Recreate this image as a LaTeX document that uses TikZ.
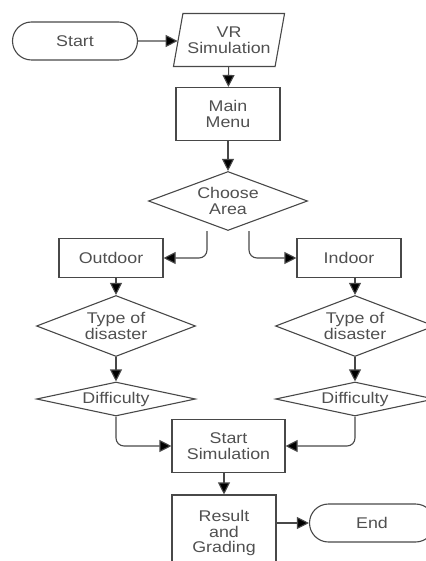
\documentclass[tikz,border=0pt]{standalone}
\usepackage{fontspec}
\setmainfont[FakeStretch=1.15]{Liberation Sans}
\usetikzlibrary{shapes.geometric,shapes.misc,arrows.meta}
\definecolor{edge}{HTML}{484848}
\definecolor{txt}{HTML}{505050}
\tikzset{
  base/.style={draw=edge, line width=1.1pt, text=txt, align=center, inner sep=0pt,
    font=\fontsize{15.5}{15.5}\selectfont},
  term/.style={base, rounded rectangle, minimum width=125pt, minimum height=38pt},
  io/.style={base, trapezium, trapezium left angle=72, trapezium right angle=108,
    trapezium stretches=true, minimum width=112pt, minimum height=53pt},
  box/.style={base, rectangle, minimum width=104pt},
  choice/.style={base, diamond, minimum width=159pt},
  arr/.style={draw=edge, line width=1.1pt, -{Triangle[length=12pt,width=12pt,fill=black]}},
}
\begin{document}
\begin{tikzpicture}[x=1pt,y=-1pt]
  \useasboundingbox (0,0) rectangle (425,561);
  % top
  \node[term] (start) at (75,41) {Start};
  \node[io] (vr) at (229,40) {VR\\Simulation};
  \node[box, minimum height=53pt] (menu) at (228,114) {Main\\Menu};
  \node[choice, minimum height=59pt, aspect=2.7] (area) at (228,201) {Choose\\Area};
  % two branches
  \node[box, minimum height=39pt] (outdoor) at (111,258) {Outdoor};
  \node[box, minimum height=39pt] (indoor) at (349,258) {Indoor};
  \node[choice, minimum height=61pt, aspect=2.6] (typeout) at (116,326) {Type of\\disaster};
  \node[choice, minimum height=61pt, aspect=2.6] (typein) at (355,326) {Type of\\disaster};
  \node[choice, minimum height=34pt, aspect=4.7] (diffout) at (116,399) {Difficulty};
  \node[choice, minimum height=34pt, aspect=4.7] (diffin) at (355,399) {Difficulty};
  % bottom
  \node[box, minimum width=113pt, minimum height=53pt] (sim) at (228.5,446) {Start\\Simulation};
  \node[box, minimum height=76pt] (result) at (224,533) {Result\\and\\Grading};
  \node[term] (end) at (372,523) {End};

  \draw[arr] (start) -- (start -| vr.west);
  \draw[arr] (vr) -- (menu);
  \draw[arr] (menu) -- (area);
  \draw[arr, rounded corners=8pt] ([xshift=-21pt]area.south) |- (outdoor);
  \draw[arr, rounded corners=8pt] ([xshift=21pt]area.south) |- (indoor);
  \draw[arr] (outdoor.south -| typeout) -- (typeout);
  \draw[arr] (indoor.south -| typein) -- (typein);
  \draw[arr] (typeout) -- (diffout);
  \draw[arr] (typein) -- (diffin);
  \draw[arr, rounded corners=8pt] (diffout) |- (sim);
  \draw[arr, rounded corners=8pt] (diffin) |- (sim);
  \draw[arr] (sim.south -| result) -- (result);
  \draw[arr] (result.east |- end) -- (end);
\end{tikzpicture}
\end{document}
